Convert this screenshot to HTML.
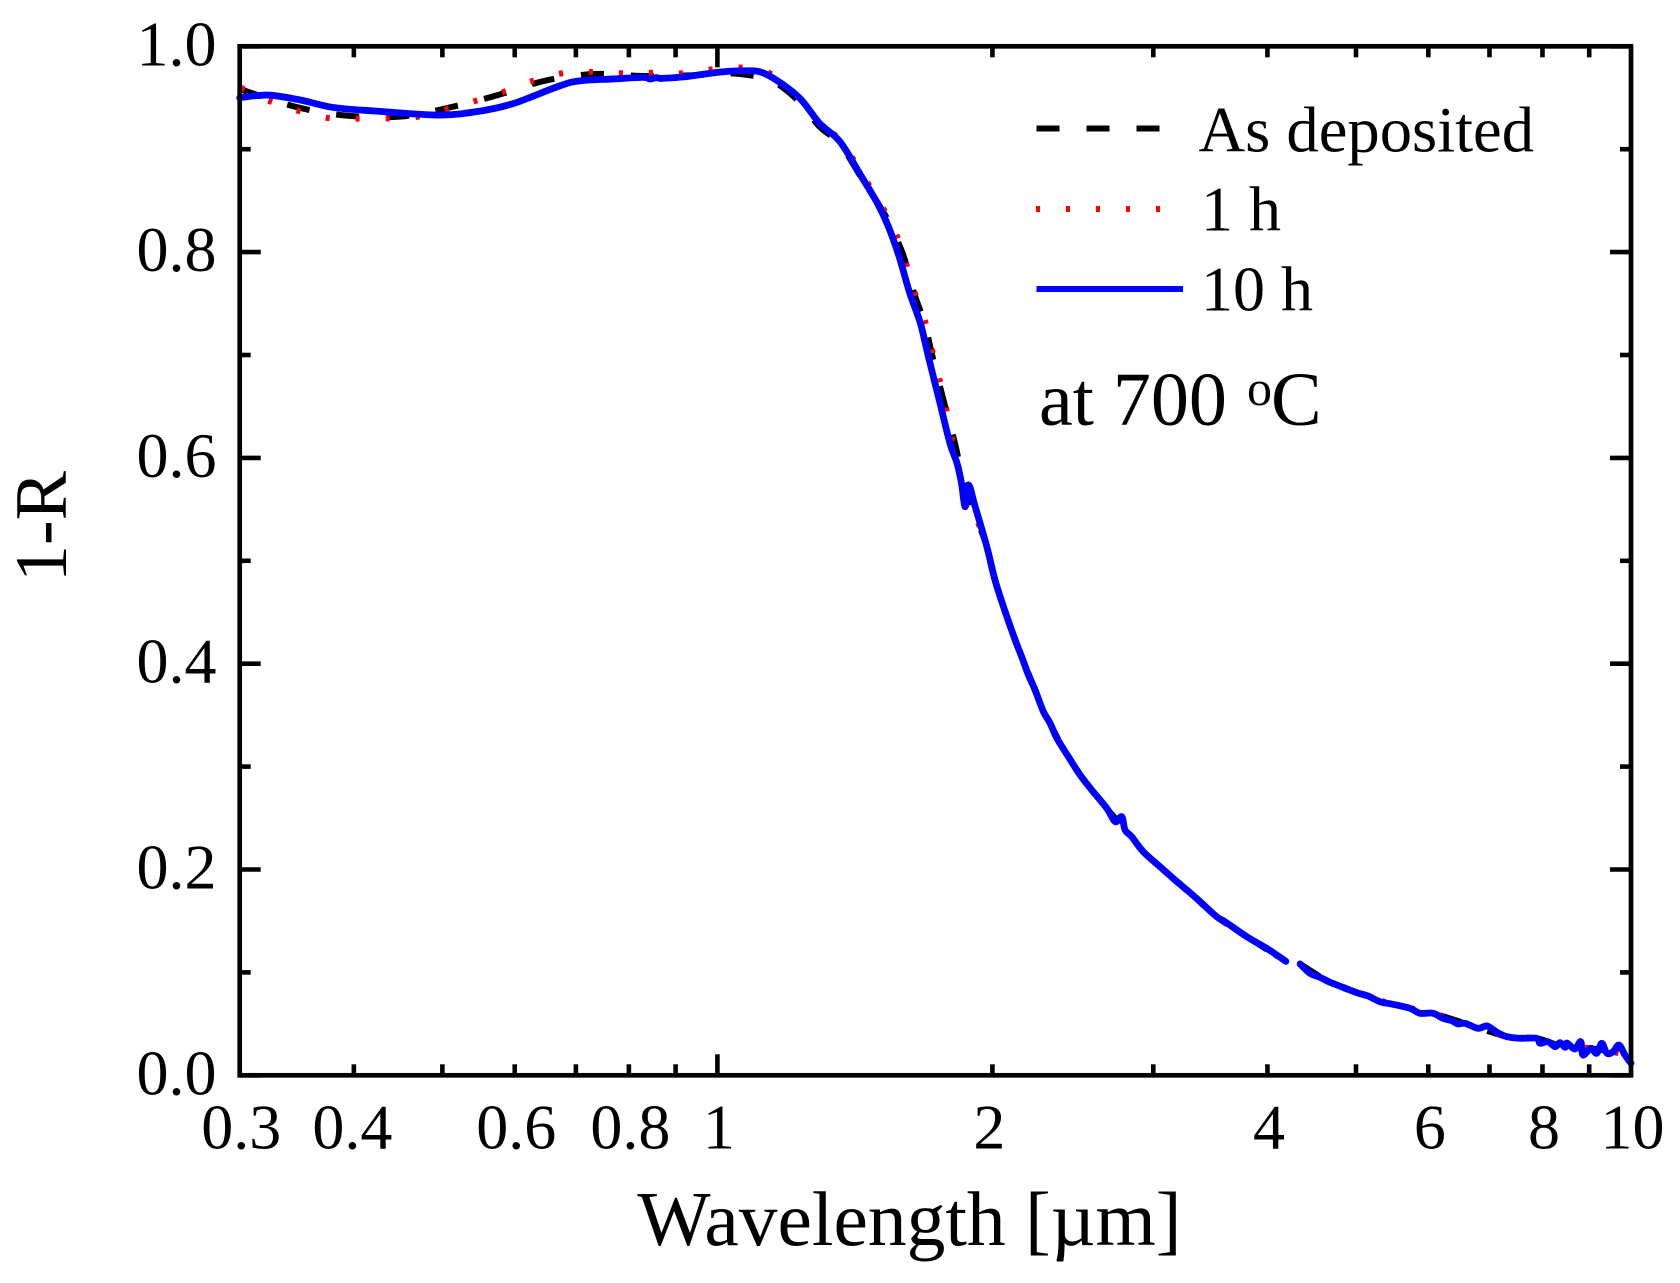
<!DOCTYPE html>
<html lang="en">
<head>
<meta charset="utf-8">
<title>1-R versus wavelength</title>
<style>
html,body{margin:0;padding:0;background:#fff;}
body{width:1680px;height:1283px;overflow:hidden;}
svg{display:block;}
text{font-family:"Liberation Serif","DejaVu Serif",serif;fill:#000;}
</style>
</head>
<body>
<svg id="chart" xmlns="http://www.w3.org/2000/svg" width="1680" height="1283" viewBox="0 0 1680 1283">
  <rect x="0" y="0" width="1680" height="1283" fill="#fff"/>
  <g id="series"></g>
  <g id="axes"></g>
  <text x="909.5" y="1245" font-size="77.5" text-anchor="middle">Wavelength [µm]</text>
  <text transform="translate(66,526.5) rotate(-90)" font-size="74" text-anchor="middle">1-R</text>
  <g>
    <line x1="1036.5" y1="128.5" x2="1160" y2="128.5" stroke="#000" stroke-width="6" stroke-dasharray="23 27"/>
    <text x="1198.5" y="151.5" font-size="64.6">As deposited</text>
    <line x1="1036" y1="209" x2="1162" y2="209" stroke="#f00" stroke-width="6" stroke-dasharray="4 26"/>
    <text x="1201" y="230.5" font-size="64">1 h</text>
    <line x1="1036.5" y1="289" x2="1183" y2="289" stroke="#00f" stroke-width="6"/>
    <text x="1201" y="310.5" font-size="64">10 h</text>
  </g>
  <g>
    <text x="1039" y="425" font-size="76">at 700 </text>
    <text x="1247" y="405" font-size="50">o</text>
    <text x="1271" y="425" font-size="76">C</text>
  </g>
</svg>
<script>
const xMajorTicks = [1];
const xMinorTicks = [0.4, 0.5, 0.6, 0.7, 0.8, 0.9, 2, 3, 4, 5, 6, 7, 8, 9];
const xTickLabels = ["0.3", "0.4", "0.6", "0.8", "1", "2", "4", "6", "8", "10"];
const yMajorTicks = [0, 0.2, 0.4, 0.6, 0.8, 1];
const yMinorTicks = [0.1, 0.3, 0.5, 0.7, 0.9];
const yTickLabels = ["0.0", "0.2", "0.4", "0.6", "0.8", "1.0"];

const wavelengthAsDeposited = [0.3, 0.345, 0.393, 0.449, 0.506, 0.572, 0.648, 0.734, 0.829, 0.95, 1.0, 1.08, 1.15, 1.226, 1.293, 1.362, 1.438, 1.5, 1.55, 1.6, 1.642, 1.686, 1.72, 1.768, 1.82, 1.86, 1.9, 1.972, 2.013, 2.118, 2.313, 2.495, 2.668, 2.841, 2.925, 3.169, 3.52, 3.797, 4.19, null, 4.343, 4.683, 5.01, 5.489, 6.07, 6.58, 7.317, 7.885, 8.47, 9.04, 9.85, 10];
const valuesAsDeposited = [0.9585, 0.9413, 0.9326, 0.9316, 0.94, 0.952, 0.9666, 0.9731, 0.9711, 0.972, 0.974, 0.9721, 0.966, 0.947, 0.922, 0.905, 0.872, 0.847, 0.8247, 0.7955, 0.76, 0.7308, 0.6983, 0.6563, 0.6142, 0.5755, 0.5526, 0.5137, 0.4813, 0.423, 0.3421, 0.2918, 0.2595, 0.2319, 0.2173, 0.1898, 0.1541, 0.1347, 0.1104, null, 0.1082, 0.0904, 0.0803, 0.069, 0.0603, 0.0505, 0.0375, 0.036, 0.0272, 0.0262, 0.0197, 0.0117];

const wavelengthOneHour = [0.301, 0.3234, 0.3474, 0.3748, 0.4042, 0.4366, 0.4702, 0.5059, 0.544, 0.5843, 0.6276, 0.6768, 0.73, 0.7875, 0.849, 0.916, 0.988, 1.068, 1.14, 1.226, 1.293, 1.365, 1.442, 1.505, 1.555, 1.6, 1.645, 1.69, 1.725, 1.772, 1.825, 1.86, 1.9, 1.972, 2.013, 2.118, 2.313, 2.495, 2.668, 2.841, 2.925, 3.169, 3.52, 3.797, 4.19, null, 4.343, 4.683, 5.01, 5.489, 6.07, 6.58, 7.317, 7.885, 8.47, 9.04, 9.85, 10];
const valuesOneHour = [0.9595, 0.9468, 0.9374, 0.9303, 0.9297, 0.93, 0.9316, 0.9391, 0.9471, 0.9559, 0.9663, 0.9738, 0.975, 0.9738, 0.9743, 0.9738, 0.9776, 0.9792, 0.974, 0.951, 0.926, 0.908, 0.875, 0.848, 0.826, 0.7955, 0.76, 0.7308, 0.6983, 0.6563, 0.6, 0.5755, 0.5526, 0.5137, 0.4813, 0.423, 0.3421, 0.2918, 0.2595, 0.2319, 0.2173, 0.1898, 0.1541, 0.1347, 0.1104, null, 0.1082, 0.0904, 0.0803, 0.069, 0.0603, 0.0505, 0.0375, 0.036, 0.0272, 0.0262, 0.0197, 0.0117];

const wavelengthTenHours = [0.3, 0.322, 0.3495, 0.379, 0.422, 0.496, 0.553, 0.599, 0.668, 0.705, 0.77, 0.829, 0.843, 0.857, 0.87, 0.924, 1.0, 1.071, 1.13, 1.226, 1.293, 1.362, 1.438, 1.497, 1.539, 1.581, 1.624, 1.668, 1.702, 1.749, 1.797, 1.829, 1.85, 1.867, 1.883, 1.915, 1.972, 2.013, 2.06, 2.118, 2.153, 2.19, 2.227, 2.274, 2.313, 2.353, 2.422, 2.495, 2.569, 2.668, 2.725, 2.771, 2.794, 2.841, 2.925, 3.051, 3.169, 3.265, 3.36, 3.52, 3.594, 3.797, 3.993, 4.19, null, 4.343, 4.453, 4.567, 4.683, 4.84, 5.01, 5.154, 5.312, 5.489, 5.729, 5.875, 6.07, 6.225, 6.364, 6.465, 6.58, 6.8, 6.958, 7.135, 7.317, 7.56, 7.885, 7.95, 8.11, 8.26, 8.36, 8.47, 8.51, 8.68, 8.81, 8.86, 9.04, 9.17, 9.29, 9.41, 9.56, 9.7, 9.85, 10];
const valuesTenHours = [0.95, 0.9526, 0.9478, 0.9407, 0.9371, 0.9332, 0.9374, 0.9446, 0.9607, 0.9663, 0.9683, 0.9698, 0.9682, 0.9695, 0.9688, 0.9705, 0.9747, 0.9762, 0.973, 0.951, 0.9254, 0.9073, 0.8733, 0.8474, 0.8247, 0.7955, 0.76, 0.7308, 0.6983, 0.6563, 0.6142, 0.595, 0.5755, 0.5526, 0.5737, 0.5526, 0.5137, 0.4813, 0.4535, 0.423, 0.4068, 0.389, 0.3744, 0.3534, 0.3421, 0.3275, 0.3096, 0.2918, 0.2773, 0.2595, 0.2465, 0.2513, 0.2384, 0.2319, 0.2173, 0.2027, 0.1898, 0.1801, 0.1704, 0.1541, 0.1493, 0.1347, 0.1234, 0.1108, null, 0.1082, 0.0991, 0.0952, 0.0904, 0.0855, 0.0803, 0.0771, 0.0715, 0.069, 0.0651, 0.0603, 0.0603, 0.0554, 0.0531, 0.0499, 0.0505, 0.0457, 0.0479, 0.0418, 0.0375, 0.036, 0.036, 0.0311, 0.0327, 0.0278, 0.0317, 0.0272, 0.0314, 0.0256, 0.0327, 0.0197, 0.0262, 0.0214, 0.0311, 0.0214, 0.0229, 0.0294, 0.0197, 0.0117];

const SVGNS = 'http://www.w3.org/2000/svg';
const plotLeft = 239.7, plotRight = 1631, plotTop = 46.3, plotBottom = 1075.3;
const xMin = 0.3, xMax = 10, yMin = 0, yMax = 1;

function xScale(v) {
  return plotLeft + (plotRight - plotLeft) * Math.log(v / xMin) / Math.log(xMax / xMin);
}
function yScale(v) {
  return plotBottom - (plotBottom - plotTop) * (v - yMin) / (yMax - yMin);
}
function splineSegment(pts) {
  let d = 'M' + pts[0][0].toFixed(2) + ' ' + pts[0][1].toFixed(2);
  for (let i = 0; i < pts.length - 1; i++) {
    const p0 = pts[Math.max(i - 1, 0)], p1 = pts[i], p2 = pts[i + 1], p3 = pts[Math.min(i + 2, pts.length - 1)];
    const c1x = p1[0] + (p2[0] - p0[0]) / 6, c1y = p1[1] + (p2[1] - p0[1]) / 6;
    const c2x = p2[0] - (p3[0] - p1[0]) / 6, c2y = p2[1] - (p3[1] - p1[1]) / 6;
    d += 'C' + c1x.toFixed(2) + ' ' + c1y.toFixed(2) + ' ' + c2x.toFixed(2) + ' ' + c2y.toFixed(2) + ' ' + p2[0].toFixed(2) + ' ' + p2[1].toFixed(2);
  }
  return d;
}
function pathFrom(xs, ys) {
  let d = '', run = [];
  for (let i = 0; i < xs.length; i++) {
    if (xs[i] === null || ys[i] === null) {
      if (run.length) d += splineSegment(run);
      run = [];
      continue;
    }
    run.push([xScale(xs[i]), yScale(ys[i])]);
  }
  if (run.length) d += splineSegment(run);
  return d;
}
const seriesGroup = document.getElementById('series');
const axesGroup = document.getElementById('axes');

function drawCurve(xs, ys, color, width, dash, cap) {
  const p = document.createElementNS(SVGNS, 'path');
  p.setAttribute('d', pathFrom(xs, ys));
  p.setAttribute('fill', 'none');
  p.setAttribute('stroke', color);
  p.setAttribute('stroke-width', width);
  p.setAttribute('stroke-linejoin', 'round');
  p.setAttribute('stroke-linecap', cap);
  if (dash) p.setAttribute('stroke-dasharray', dash);
  seriesGroup.appendChild(p);
  return p;
}
const curveBlack = drawCurve(wavelengthAsDeposited, valuesAsDeposited, '#000', 6, '23 27', 'butt');


const curveRed = drawCurve(wavelengthOneHour, valuesOneHour, '#f00', 6, '4 26', 'butt');


const curveBlue = drawCurve(wavelengthTenHours, valuesTenHours, '#00f', 6.8, null, 'round');



function tickLine(x1, y1, x2, y2, w) {
  const l = document.createElementNS(SVGNS, 'line');
  l.setAttribute('x1', x1);
  l.setAttribute('y1', y1);
  l.setAttribute('x2', x2);
  l.setAttribute('y2', y2);
  l.setAttribute('stroke', '#000');
  l.setAttribute('stroke-width', w);
  
  axesGroup.appendChild(l);
  return l;
}
const majorLen = 21, minorLen = 11, tickWidth = 4.6;
xMajorTicks.forEach(function (v) {
  const x = xScale(v);
  const a = tickLine(x, plotBottom, x, plotBottom - majorLen, tickWidth);
  
  const b = tickLine(x, plotTop, x, plotTop + majorLen, tickWidth);
  
});
xMinorTicks.forEach(function (v) {
  const x = xScale(v);
  const a = tickLine(x, plotBottom, x, plotBottom - minorLen, tickWidth);
  
  const b = tickLine(x, plotTop, x, plotTop + minorLen, tickWidth);
  
});
yMajorTicks.forEach(function (v) {
  const y = yScale(v);
  const a = tickLine(plotLeft, y, plotLeft + majorLen, y, tickWidth);
  
  const b = tickLine(plotRight, y, plotRight - majorLen, y, tickWidth);
  
});
yMinorTicks.forEach(function (v) {
  const y = yScale(v);
  const a = tickLine(plotLeft, y, plotLeft + minorLen, y, tickWidth);
  
  const b = tickLine(plotRight, y, plotRight - minorLen, y, tickWidth);
  
});

const frame = document.createElementNS(SVGNS, 'rect');
frame.setAttribute('x', plotLeft);
frame.setAttribute('y', plotTop);
frame.setAttribute('width', plotRight - plotLeft);
frame.setAttribute('height', plotBottom - plotTop);
frame.setAttribute('fill', 'none');
frame.setAttribute('stroke', '#000');
frame.setAttribute('stroke-width', 4.7);


axesGroup.appendChild(frame);

xTickLabels.forEach(function (s) {
  const v = parseFloat(s);
  let nudge = 1.5;
  if (v === 0.4) nudge = -1.5;
  if (v === 2) nudge = -3;
  const t = document.createElementNS(SVGNS, 'text');
  t.setAttribute('x', xScale(v) + nudge);
  t.setAttribute('y', 1148.5);
  t.setAttribute('font-size', 64);
  t.setAttribute('text-anchor', 'middle');
  
  
  t.textContent = s;
  axesGroup.appendChild(t);
});
yTickLabels.forEach(function (s) {
  const t = document.createElementNS(SVGNS, 'text');
  t.setAttribute('x', 216.5);
  t.setAttribute('y', yScale(parseFloat(s)) + 19);
  t.setAttribute('font-size', 64);
  t.setAttribute('text-anchor', 'end');
  
  
  t.textContent = s;
  axesGroup.appendChild(t);
});
</script>
</body>
</html>
